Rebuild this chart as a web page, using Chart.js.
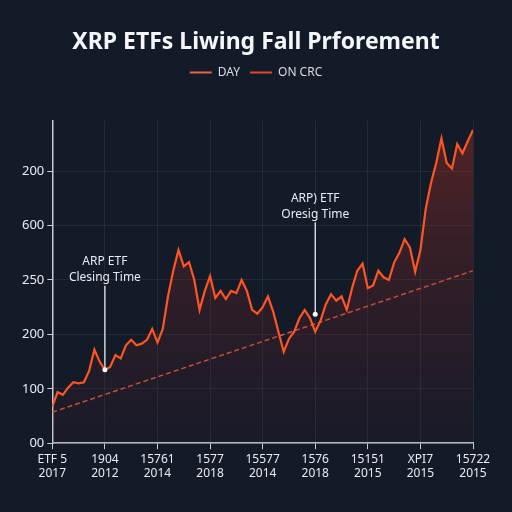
<!DOCTYPE html>
<html>
<head>
<meta charset="utf-8">
<script src="https://cdn.jsdelivr.net/npm/chart.js@4.4.1/dist/chart.umd.min.js"></script>
<style>
  html, body { margin: 0; padding: 0; background: #131b29; }
  #wrap { width: 512px; height: 512px; }
</style>
</head>
<body>
<div id="wrap"><canvas id="chart" width="512" height="512"></canvas></div>
<script>
const title = 'XRP ETFs Liwing Fall Prforement';
const seriesNames = ['DAY', 'ON CRC'];

const yLabels = ['00', '100', '200', '250', '600', '200'];
const xLabels = [
  ['ETF 5', '2017'], ['1904', '2012'], ['15761', '2014'], ['1577', '2018'], ['15577', '2014'],
  ['1576', '2018'], ['15151', '2015'], ['XPI7', '2015'], ['15722', '2015']
];

// price line, one value per step (80 steps across the axis)
const dayValues = [
  0.67, 0.94, 0.89, 1.02, 1.12, 1.1, 1.12, 1.33, 1.72, 1.5,
  1.35, 1.4, 1.62, 1.56, 1.8, 1.9, 1.8, 1.83, 1.9, 2.1,
  1.85, 2.1, 2.7, 3.17, 3.55, 3.25, 3.33, 3.0, 2.45, 2.8,
  3.07, 2.67, 2.8, 2.65, 2.8, 2.76, 3.0, 2.8, 2.45, 2.38,
  2.5, 2.7, 2.42, 2.05, 1.68, 1.92, 2.05, 2.3, 2.45, 2.3,
  2.05, 2.25, 2.55, 2.74, 2.62, 2.7, 2.45, 2.85, 3.17, 3.3,
  2.85, 2.9, 3.17, 3.05, 3.0, 3.32, 3.5, 3.75, 3.6, 3.15,
  3.55, 4.3, 4.78, 5.15, 5.6, 5.15, 5.05, 5.5, 5.33, 5.55,
  5.76
];

// dashed trend line ends
const trendX = [0, 80];
const trendY = [0.57, 3.17];

// callouts: where they point, and how high the label sits above
const noteIndex = [10, 50];
const noteValue = [1.35, 2.37];
const noteText = [['ARP ETF', 'Clesing Time'], ['ARP) ETF', 'Oresig Time']];

const dayPoints = dayValues.map((v, i) => ({ x: i, y: v }));
const trendPoints = trendX.map((x, i) => ({ x: x, y: trendY[i] }));

// push the plot area down below the legend
const legendGap = {
  id: 'legendGap',
  beforeInit(chart) {
    const fit = chart.legend.fit;
    chart.legend.fit = function () {
      fit.bind(chart.legend)();
      this.height += 32;
    };
  }
};

const calloutPlugin = {
  id: 'callouts',
  afterDatasetsDraw(chart) {
    const ctx = chart.ctx;
    const xs = chart.scales.x;
    const ys = chart.scales.y;
    ctx.save();
    noteIndex.forEach((idx, n) => {
      const px = xs.getPixelForValue(idx);
      const py = ys.getPixelForValue(noteValue[n]);
      const top = n === 0 ? py - 84 : py - 92;
      ctx.strokeStyle = '#e8ecf2';
      ctx.lineWidth = 1.3;
      ctx.beginPath();
      ctx.moveTo(px, top);
      ctx.lineTo(px, py - 2);
      ctx.stroke();
      ctx.fillStyle = '#ffffff';
      ctx.beginPath();
      ctx.arc(px, py, 2.5, 0, Math.PI * 2);
      ctx.fill();
      ctx.font = '12px "Noto Sans"';
      ctx.textAlign = 'center';
      ctx.textBaseline = 'bottom';
      ctx.fillStyle = '#e8ecf2';
      ctx.fillText(noteText[n][0], px, top - 18);
      ctx.fillText(noteText[n][1], px, top - 2);
    });
    ctx.restore();
  }
};

new Chart(document.getElementById('chart'), {
  type: 'line',
  data: {
    datasets: [
      {
        label: seriesNames[0],
        data: dayPoints,
        borderColor: '#ff5522',
        borderWidth: 2.2,
        pointRadius: 0,
        tension: 0,
        fill: 'origin',
        backgroundColor: (c) => {
          const area = c.chart.chartArea;
          if (!area) return 'rgba(120,40,35,0.3)';
          const g = c.chart.ctx.createLinearGradient(0, area.top, 0, area.bottom);
          g.addColorStop(0, 'rgba(150,45,35,0.5)');
          g.addColorStop(1, 'rgba(70,30,40,0.15)');
          return g;
        }
      },
      {
        label: seriesNames[1],
        data: trendPoints,
        borderColor: '#ea5a44',
        borderWidth: 1.5,
        borderDash: [5, 3],
        pointRadius: 0,
        fill: false
      }
    ]
  },
  options: {
    responsive: false,
    animation: false,
    layout: { padding: { left: 19, right: 19, bottom: 28, top: 0 } },
    plugins: {
      tooltip: { enabled: false },
      title: {
        display: true,
        text: title,
        color: '#f4f6f9',
        font: { family: 'Noto Sans', size: 23, weight: 'bold' },
        padding: { top: 29, bottom: 0 }
      },
      legend: {
        display: true,
        labels: {
          color: '#d8dce2',
          font: { family: 'Noto Sans', size: 12 },
          boxWidth: 22,
          boxHeight: 2,
          padding: 10,
          generateLabels: (chart) => chart.data.datasets.map((d, i) => ({
            text: d.label,
            fillStyle: i === 0 ? '#e8643c' : '#e8452c',
            strokeStyle: 'transparent',
            lineWidth: 0,
            fontColor: '#d8dce2',
            datasetIndex: i
          }))
        }
      }
    },
    scales: {
      x: {
        type: 'linear',
        min: 0,
        max: 80,
        grid: { color: 'rgba(255,255,255,0.07)', tickColor: '#c8cdd4', tickLength: 6 },
        border: { color: '#c8cdd4', width: 1.5 },
        ticks: {
          stepSize: 10,
          autoSkip: false,
          maxRotation: 0,
          color: '#e8ecf2',
          font: { family: 'Noto Sans', size: 12 },
          padding: 3,
          callback: (v) => xLabels[v / 10]
        }
      },
      y: {
        min: 0,
        max: 5.93,
        grid: { color: 'rgba(255,255,255,0.07)', tickColor: '#c8cdd4', tickLength: 5 },
        border: { color: '#c8cdd4', width: 1.5 },
        ticks: {
          stepSize: 1,
          color: '#e8ecf2',
          font: { family: 'Noto Sans', size: 13 },
          padding: 3,
          callback: (v) => yLabels[v]
        }
      },
      // empty axis on the right, only to leave room for the last x label
      yRight: {
        position: 'right',
        min: 0,
        max: 1,
        grid: { display: false },
        border: { display: false },
        ticks: { display: false },
        afterFit: (s) => { s.width = 20; }
      }
    }
  },
  plugins: [legendGap, calloutPlugin]
});
</script>
</body>
</html>
